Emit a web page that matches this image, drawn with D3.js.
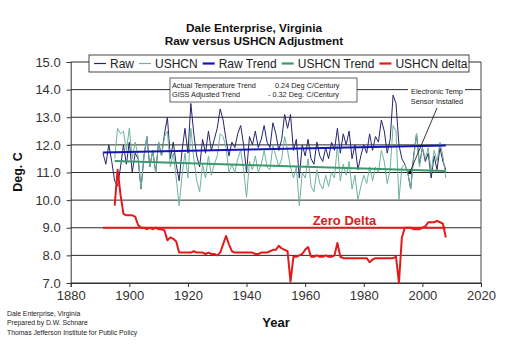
<!DOCTYPE html>
<html lang="en">
<head>
<meta charset="utf-8">
<script src="https://d3js.org/d3.v7.min.js"></script>
<style>
  body { margin: 0; background: #fff; }
  text { font-family: "Liberation Sans", Arial, sans-serif; }
</style>
</head>
<body>
<script>
// chart data
const rawYears = d3.range(1891, 2009);
const rawValues = [
  11.7, 11.3, 12.0, 11.4, 10.7, 10.5, 11.2, 12.0, 11.3, 12.1,
  11.0, 11.7, 11.5, 10.4, 11.6, 12.3, 11.2, 11.8, 11.0, 12.1,
  11.6, 12.4, 13.0, 11.5, 12.1, 11.3, 10.7, 11.8, 12.6, 11.7,
  13.5, 12.4, 11.6, 11.2, 12.2, 11.7, 12.5, 11.8, 12.2, 12.6,
  13.3, 12.9, 12.2, 11.6, 12.1, 11.9, 12.4, 12.7, 12.0, 11.0,
  12.3, 12.0, 12.5, 11.9, 12.2, 12.7, 12.1, 11.9, 12.8, 12.4,
  11.8, 12.2, 13.1, 12.6, 13.1, 11.8, 12.2, 10.8, 12.0, 11.6,
  12.2, 11.5, 11.3, 12.1, 11.6, 11.4, 11.9, 11.5, 12.1, 11.8,
  12.6, 11.7, 12.4, 12.0, 12.5, 11.5, 12.0, 11.1, 11.6, 12.0,
  11.7, 12.4, 11.8, 12.3, 12.1, 12.9, 12.5, 11.7, 12.2, 13.8,
  13.5, 12.0, 11.5, 11.3, 11.0, 10.4, 11.6, 12.4, 11.3, 11.9,
  11.4, 11.7, 10.8, 11.6, 11.1, 11.9, 11.4, 11.1
];

const ushcnYears = d3.range(1895, 2009);
const ushcnValues = [
  11.5, 12.6, 12.4, 12.5, 11.8, 12.6,
  11.5, 12.1, 11.6, 10.4, 11.6, 12.3, 11.2, 11.8, 11.0, 12.1,
  11.6, 12.3, 12.5, 11.2, 11.7, 10.8, 9.8, 10.9, 11.7, 10.8,
  12.6, 11.5, 10.7, 10.3, 11.3, 10.8, 11.6, 10.9, 11.3, 11.6,
  12.4, 12.3, 11.9, 11.0, 11.3, 11.0, 11.5, 11.8, 11.1, 10.1,
  11.4, 11.1, 11.6, 11.0, 11.3, 11.8, 11.2, 11.1, 12.0, 11.6,
  11.2, 11.5, 12.3, 11.8, 11.2, 10.8, 11.2, 9.8, 11.0, 10.8,
  11.5, 10.5, 10.3, 11.1, 10.6, 10.4, 10.9, 10.5, 11.0, 10.8,
  12.0, 10.7, 11.3, 10.9, 11.4, 10.4, 10.9, 10.0, 10.5, 10.9,
  10.6, 11.2, 10.7, 11.2, 11.0, 11.8, 11.4, 10.6, 11.1, 12.7,
  12.5, 10.0, 11.2, 11.3, 11.0, 10.4, 11.5, 12.4, 11.2, 11.9,
  11.5, 11.9, 11.0, 11.8, 11.4, 12.1, 11.6, 10.8
];

// USHCN minus raw, plotted with 9.0 as zero
const deltaYears = d3.range(1895, 2009);
const deltaValues = [
  9.8, 11.1, 10.2, 9.5, 9.45, 9.45,
  9.45, 9.4, 9.1, 9.0, 9.0, 8.95, 9.0, 8.95, 9.0, 8.95,
  8.95, 8.9, 8.55, 8.65, 8.6, 8.5, 8.1, 8.1, 8.1, 8.1,
  8.1, 8.15, 8.1, 8.1, 8.1, 8.05, 8.1, 8.05, 8.05, 8.0,
  8.1, 8.4, 8.7, 8.4, 8.15, 8.1, 8.1, 8.1, 8.1, 8.1,
  8.1, 8.1, 8.05, 8.05, 8.1, 8.1, 8.1, 8.15, 8.2, 8.2,
  8.35, 8.25, 8.2, 8.15, 7.05, 7.95, 7.95, 8.0, 8.05, 8.2,
  8.3, 7.95, 7.95, 8.0, 7.95, 7.95, 8.0, 7.95, 7.95, 8.0,
  8.45, 7.95, 7.9, 7.9, 7.9, 7.9, 7.9, 7.9, 7.9, 7.9,
  7.9, 7.75, 7.85, 7.9, 7.9, 7.9, 7.9, 7.9, 7.9, 7.9,
  7.95, 7.0, 8.65, 9.0, 9.0, 9.0, 8.95, 8.95, 8.95, 9.0,
  9.05, 9.2, 9.2, 9.2, 9.25, 9.2, 9.15, 8.65
];

const rawTrendYears = [1891, 2008];
const rawTrendValues = [11.72, 11.98];
const ushcnTrendYears = [1895, 2008];
const ushcnTrendValues = [11.42, 11.05];
const zeroDeltaYears = [1891, 2008];
const zeroDeltaValues = [9.0, 9.0];

const xTicks = d3.range(1880, 2021, 20);
const yTicks = d3.range(7, 15.01, 1);

const legendItems = [
  {label: "Raw", color: "#26266b", w: 1.2},
  {label: "USHCN", color: "#6fb39b", w: 1.2},
  {label: "Raw Trend", color: "#1515b5", w: 2.2},
  {label: "USHCN Trend", color: "#3a9a6e", w: 2.2},
  {label: "USHCN delta", color: "#e31a1a", w: 2.2}
];

const width = 508, height = 347;
const svg = d3.select("body").append("svg")
  .attr("width", width).attr("height", height);

const x = d3.scaleLinear().domain([1880, 2020]).range([70.7, 481]);
const y = d3.scaleLinear().domain([7, 15]).range([283, 62]);

// grid
svg.append("g").selectAll("line").data(yTicks).join("line")
  .attr("x1", x(1880)).attr("x2", x(2020))
  .attr("y1", d => y(d)).attr("y2", d => y(d))
  .attr("stroke", "#111").attr("stroke-width", 0.9);
svg.append("line")
  .attr("x1", x(2020)).attr("x2", x(2020)).attr("y1", y(15)).attr("y2", y(7))
  .attr("stroke", "#333").attr("stroke-width", 0.9);

// axes
const xAxis = svg.append("g").attr("transform", `translate(0,${y(7)})`)
  .call(d3.axisBottom(x).tickValues(xTicks).tickFormat(d3.format("d")).tickSize(4).tickPadding(4));
const yAxis = svg.append("g").attr("transform", `translate(${x(1880)},0)`)
  .call(d3.axisLeft(y).tickValues(yTicks).tickFormat(d3.format(".1f")).tickSize(4).tickPadding(6));
[xAxis, yAxis].forEach(g => {
  g.selectAll("path,line").attr("stroke", "#333");
  g.selectAll("text").attr("fill", "#333").style("font-size", "13px")
    .style("font-family", "Liberation Sans, Arial, sans-serif");
});

// series
const line = d3.line().x(d => x(d[0])).y(d => y(d[1]));
function drawSeries(years, values, color, w) {
  svg.append("path").datum(d3.zip(years, values))
    .attr("d", line).attr("fill", "none")
    .attr("stroke", color).attr("stroke-width", w).attr("stroke-linejoin", "round");
}
drawSeries(rawYears, rawValues, "#26266b", 1);
drawSeries(ushcnYears, ushcnValues, "#6fb39b", 1);
drawSeries(rawTrendYears, rawTrendValues, "#1515b5", 2);
drawSeries(ushcnTrendYears, ushcnTrendValues, "#3a9a6e", 2);
drawSeries(zeroDeltaYears, zeroDeltaValues, "#e31a1a", 2);
drawSeries(deltaYears, deltaValues, "#e31a1a", 2);

// legend
const lg = svg.append("g");
lg.append("rect").attr("x", 89).attr("y", 55).attr("width", 380).attr("height", 17)
  .attr("fill", "#fff").attr("stroke", "#333").attr("stroke-width", 0.9);
let lx = 94;
legendItems.forEach(d => {
  lg.append("line").attr("x1", lx).attr("x2", lx + 12).attr("y1", 63.5).attr("y2", 63.5)
    .attr("stroke", d.color).attr("stroke-width", d.w);
  const t = lg.append("text").attr("x", lx + 16).attr("y", 68).text(d.label)
    .style("font-size", "12px").attr("fill", "#222");
  lx += 16 + t.node().getComputedTextLength() + 5;
});

// trend note box
const nb = svg.append("g").style("font-size", "7.3px").attr("fill", "#222");
nb.append("rect").attr("x", 170).attr("y", 78).attr("width", 187).attr("height", 24)
  .attr("fill", "#fff").attr("stroke", "#555").attr("stroke-width", 0.9);
nb.append("text").attr("x", 172).attr("y", 87.5).text("Actual Temperature Trend");
nb.append("text").attr("x", 275).attr("y", 87.5).text("0.24 Deg C/Century");
nb.append("text").attr("x", 172).attr("y", 97).text("GISS Adjusted Trend");
nb.append("text").attr("x", 268).attr("y", 97).text("- 0.32 Deg. C/Century");

// sensor annotation
svg.append("rect").attr("x", 408).attr("y", 84).attr("width", 57).attr("height", 22).attr("fill", "#fff");
svg.append("text").attr("x", 437).attr("y", 94).attr("text-anchor", "middle")
  .style("font-size", "7.3px").attr("fill", "#222").text("Electronic Temp");
svg.append("text").attr("x", 437).attr("y", 104).attr("text-anchor", "middle")
  .style("font-size", "7.3px").attr("fill", "#222").text("Sensor Installed");
svg.append("line").attr("x1", 437).attr("y1", 108).attr("x2", x(1995.7)).attr("y2", y(11.0))
  .attr("stroke", "#222").attr("stroke-width", 0.9);
svg.append("circle").attr("cx", x(1995.7)).attr("cy", y(11.0)).attr("r", 1.8).attr("fill", "#111");

// zero delta label
svg.append("text").attr("x", x(1973.4)).attr("y", y(9.1)).attr("text-anchor", "middle")
  .style("font-size", "13px").style("font-weight", "bold").attr("fill", "#d42020").text("Zero Delta");

// titles
svg.append("text").attr("x", 254).attr("y", 32).attr("text-anchor", "middle")
  .style("font-size", "11.8px").style("font-weight", "bold").attr("fill", "#111")
  .text("Dale Enterprise, Virginia");
svg.append("text").attr("x", 254).attr("y", 45).attr("text-anchor", "middle")
  .style("font-size", "11.8px").style("font-weight", "bold").attr("fill", "#111")
  .text("Raw versus USHCN Adjustment");
svg.append("text").attr("x", 276).attr("y", 327).attr("text-anchor", "middle")
  .style("font-size", "13px").style("font-weight", "bold").attr("fill", "#111").text("Year");
svg.append("text").attr("transform", "translate(22,172) rotate(-90)").attr("text-anchor", "middle")
  .style("font-size", "12.5px").style("font-weight", "bold").attr("fill", "#111").text("Deg. C");

// footer
const foot = ["Dale Enterprise, Virginia", "Prepared by D.W. Schnare", "Thomas Jefferson Institute for Public Policy"];
svg.append("g").selectAll("text").data(foot).join("text")
  .attr("x", 7).attr("y", (d, i) => 316 + i * 9.3)
  .style("font-size", "6.8px").attr("fill", "#222").text(d => d);
</script>
</body>
</html>
